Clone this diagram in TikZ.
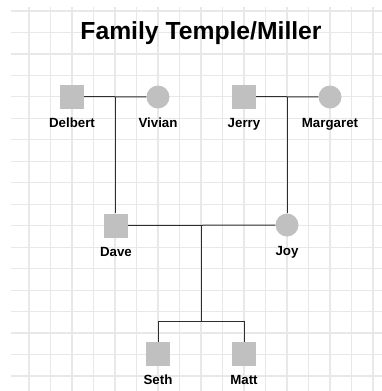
\documentclass[tikz,border=0pt]{standalone}
\usepackage{fontspec}
\setmainfont{Liberation Sans}
\usepackage{tikz}
\usetikzlibrary{calc}
\definecolor{sqgray}{RGB}{192,192,192}
\definecolor{gridgray}{RGB}{232,232,232}
\definecolor{linegray}{RGB}{45,45,45}
\tikzset{male/.style={rectangle, fill=sqgray, minimum size=24pt, inner sep=0pt}}
\tikzset{female/.style={circle, fill=sqgray, minimum size=23pt, inner sep=0pt}}
\tikzset{plabel/.style={font=\bfseries\fontsize{13.3}{15}\selectfont, inner sep=0pt, anchor=base}}
\tikzset{gridline/.style={draw=gridgray, line width=1.2pt}}
\tikzset{link/.style={draw=linegray, line width=1pt}}

\begin{document}
\begin{tikzpicture}[x=1pt,y=-1pt]
  \useasboundingbox (0,0) rectangle (382,391);
  % grid
  \foreach \k in {0,...,17} {
    \draw[gridline] (11,{11+21.47*\k}) -- (382,{11+21.47*\k});
  }
  \foreach \k in {0,...,16} {
    \draw[gridline] ({29+21.5*\k},7) -- ({29+21.5*\k},391);
  }
  \node[font=\bfseries\fontsize{24.7}{28}\selectfont] (title) at (201,33) {Family Temple/Miller};
  % people
  \foreach \x/\y/\sex/\lab/\name in {
    72/96.5/male/delbert/Delbert,
    158/97/female/vivian/Vivian,
    244/96.5/male/jerry/Jerry,
    330/97/female/margaret/Margaret,
    116/225.5/male/dave/Dave,
    287/225/female/joy/Joy,
    158/354/male/seth/Seth,
    244/354/male/matt/Matt%
  } {
    \node[\sex] (\lab) at (\x, \y) {};
    \node[plabel] (\lab-name) at (\x, \y+30.5) {\name};
  }
  % couples
  \coordinate (m1) at ($(delbert.east)!.5!(vivian.west)$);
  \coordinate (m2) at ($(jerry.east)!.5!(margaret.west)$);
  \coordinate (m3) at ($(dave.east)!.5!(joy.west)$);
  \draw[link] (delbert) -- (vivian);
  \draw[link] (jerry) -- (margaret);
  \draw[link] (dave) -- (joy);
  \draw[link] (m1) -- (m1 |- dave.north);
  \draw[link] (m2) -- (m2 |- joy.north);
  % children
  \coordinate (sib) at ($(m3)+(0,96)$);
  \draw[link] (m3) -- (sib);
  \draw[link] (seth.north) |- (sib) -| (matt.north);
\end{tikzpicture}
\end{document}
